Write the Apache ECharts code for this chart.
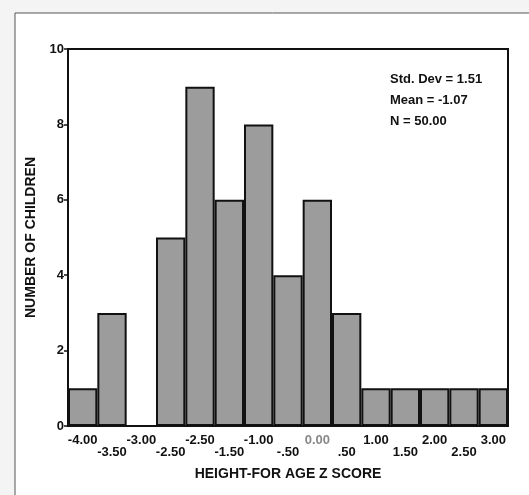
<!DOCTYPE html>
<html>
<head>
<meta charset="utf-8">
<script src="https://cdn.jsdelivr.net/npm/echarts@6/dist/echarts.min.js"></script>
<style>
  html, body { margin: 0; padding: 0; background: #f4f4f4; }
  #chart { width: 529px; height: 495px; }
</style>
</head>
<body>
<div id="chart"></div>
<script>
// bin labels as printed under the bars (two staggered rows)
const binLabels = ["-4.00", "-3.50", "-3.00", "-2.50", "-2.50", "-1.50", "-1.00", "-.50",
  "0.00", ".50", "1.00", "1.50", "2.00", "2.50", "3.00"];
// number of children per bin
const counts = [1, 3, 0, 5, 9, 6, 8, 4, 6, 3, 1, 1, 1, 1, 1];
const yTicks = { min: 0, max: 10, step: 2 };
const statLines = ["Std. Dev = 1.51", "Mean = -1.07", "N = 50.00"];

const font = "'Liberation Sans', Arial, sans-serif";

const chart = echarts.init(document.getElementById("chart"));
chart.setOption({
  backgroundColor: "transparent",
  animation: false,
  graphic: [
    {
      type: "rect",
      z: -10,
      shape: { x: 15, y: 13, width: 530, height: 500 },
      style: { fill: "#fff", stroke: "#555", lineWidth: 1 }
    },
    {
      type: "group",
      left: 390,
      top: 73,
      children: statLines.map((t, i) => ({
        type: "text",
        top: i * 21,
        style: { text: t, font: "bold 13px " + font, fill: "#111" }
      }))
    }
  ],
  grid: {
    left: 68,
    right: 21,
    top: 49,
    bottom: 69,
    show: true,
    borderColor: "#111",
    borderWidth: 2
  },
  xAxis: {
    type: "category",
    data: binLabels,
    boundaryGap: true,
    name: "HEIGHT-FOR AGE Z SCORE",
    nameLocation: "middle",
    nameGap: 41,
    nameTextStyle: { fontFamily: font, fontWeight: "bold", fontSize: 14, color: "#111" },
    axisLine: { lineStyle: { color: "#111", width: 2 } },
    axisTick: { alignWithLabel: true, length: 4, lineStyle: { color: "#111", width: 1.5 } },
    axisLabel: {
      interval: 0,
      margin: 5,
      formatter: (v, i) => {
        const tag = v === "0.00" ? "g" : "a";
        return (i % 2 === 0 ? "" : "\n") + "{" + tag + "|" + v + "}";
      },
      rich: {
        a: { fontFamily: font, fontWeight: "bold", fontSize: 13, color: "#111", lineHeight: 18 },
        g: { fontFamily: font, fontWeight: "bold", fontSize: 13, color: "#888", lineHeight: 18 }
      }
    },
    splitLine: { show: false }
  },
  yAxis: {
    type: "value",
    min: yTicks.min,
    max: yTicks.max,
    interval: yTicks.step,
    name: "NUMBER OF CHILDREN",
    nameLocation: "middle",
    nameRotate: 90,
    nameGap: 30,
    nameTextStyle: { fontFamily: font, fontWeight: "bold", fontSize: 14, color: "#111" },
    axisLine: { show: true, lineStyle: { color: "#111", width: 2 } },
    axisTick: { show: true, length: 4, lineStyle: { color: "#111", width: 1.5 } },
    axisLabel: { margin: 4, fontFamily: font, fontWeight: "bold", fontSize: 13, color: "#111" },
    splitLine: { show: false }
  },
  series: [
    {
      type: "bar",
      data: counts,
      barCategoryGap: "0%",
      itemStyle: { color: "#9c9c9c", borderColor: "#111", borderWidth: 2 }
    }
  ]
});
</script>
</body>
</html>
